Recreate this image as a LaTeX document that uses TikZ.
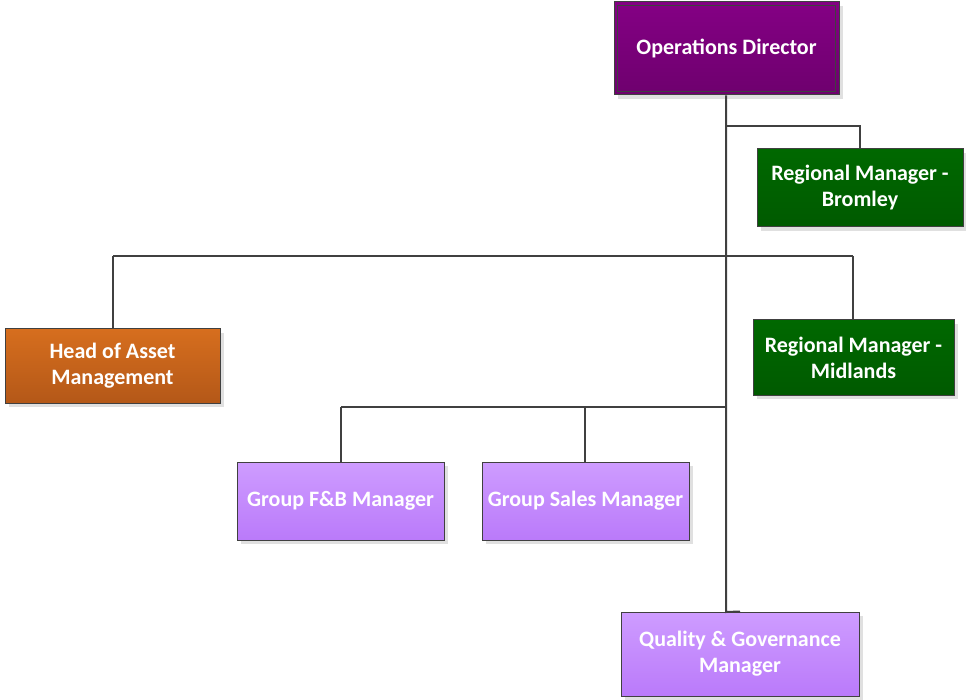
\documentclass[tikz,border=0pt]{standalone}
\usepackage{fontspec}
\setmainfont{Carlito}
\usetikzlibrary{shadows}
\definecolor{edgegray}{RGB}{64,64,64}
\definecolor{odtop}{RGB}{132,0,132}
\definecolor{odbot}{RGB}{110,0,110}
\definecolor{grtop}{RGB}{0,104,0}
\definecolor{grbot}{RGB}{0,90,0}
\definecolor{ortop}{RGB}{214,110,30}
\definecolor{orbot}{RGB}{180,88,24}
\definecolor{lptop}{RGB}{206,156,255}
\definecolor{lpbot}{RGB}{186,122,250}
\tikzset{
  orgbox/.style={draw=edgegray, line width=1pt, text=white, align=center,
    font=\fontsize{22}{26}\selectfont\bfseries, inner sep=0pt,
    drop shadow={shadow xshift=4pt, shadow yshift=-4pt, fill=black!12, opacity=1}},
  odbox/.style={orgbox, top color=odtop, bottom color=odbot, minimum width=225pt, minimum height=93pt},
  greenbox/.style={orgbox, top color=grtop, bottom color=grbot},
  orangebox/.style={orgbox, top color=ortop, bottom color=orbot},
  lilacbox/.style={orgbox, top color=lptop, bottom color=lpbot},
  link/.style={draw=edgegray, line width=2pt}
}
\begin{document}
\begin{tikzpicture}[x=1pt,y=-1pt]
\useasboundingbox (0,0) rectangle (966,700);
\coordinate (t1) at (726,126);
\coordinate (t2) at (726,256);
\coordinate (t3) at (726,407);
\coordinate (aL) at (113,256);
\coordinate (aR) at (853,256);
\coordinate (gL) at (341,407);
\coordinate (gS) at (585,407);
\coordinate (qtop) at (726,612);

\node[odbox] (od) at (726.5,48.5) {Operations Director};
\draw[edgegray, line width=0.6pt] ([shift={(4pt,-4pt)}]od.north west) rectangle ([shift={(-4pt,4pt)}]od.south east);

\node[greenbox, minimum width=206pt, minimum height=78pt] (rb) at (860,188) {Regional Manager -\\Bromley};
\node[orangebox, minimum width=215pt, minimum height=74pt] (ha) at (112.5,366) {Head of Asset\\Management};
\node[greenbox, minimum width=201pt, minimum height=75pt] (rm) at (853.5,357.5) {Regional Manager -\\Midlands};
\node[lilacbox, minimum width=207pt, minimum height=78pt] (fb) at (340.5,501) {Group F\&B Manager};
\node[lilacbox, minimum width=207pt, minimum height=78pt] (gs) at (585.5,501) {Group Sales Manager};
\node[lilacbox, minimum width=238pt, minimum height=84pt] (qg) at (740,654) {Quality \& Governance\\Manager};

\draw[link] (od.south -| t1) -- (qtop) -- (qg.north);
\draw[link] (t1) -| (rb.north);
\draw[link] (aL) -- (aR);
\draw[link] (aL) -- (ha.north -| aL);
\draw[link] (aR) -- (rm.north -| aR);
\draw[link] (gL) -- (t3);
\draw[link] (gL) -- (fb.north -| gL);
\draw[link] (gS) -- (gs.north -| gS);
\end{tikzpicture}
\end{document}
